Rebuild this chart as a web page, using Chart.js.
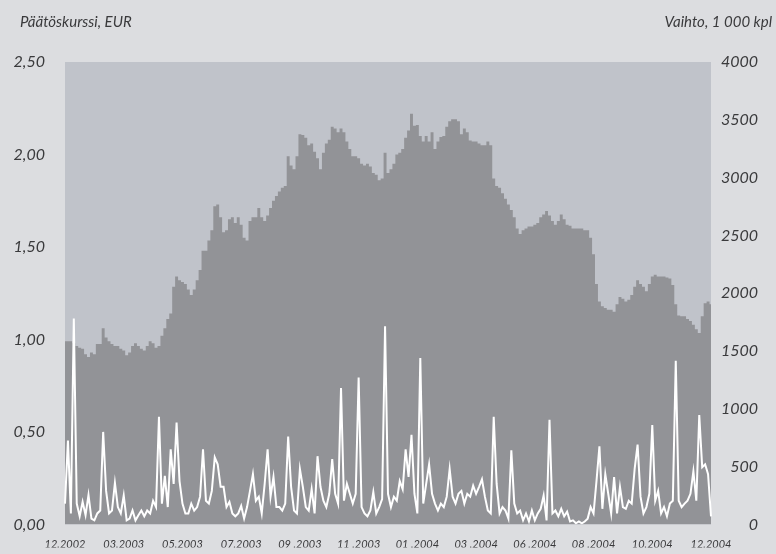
<!DOCTYPE html>
<html>
<head>
<meta charset="utf-8">
<script src="https://cdn.jsdelivr.net/npm/chart.js@4.4.1/dist/chart.umd.min.js"></script>
<style>
  body { margin: 0; background: #dcdde0; }
  canvas { display: block; }
</style>
</head>
<body>
<canvas id="chart" width="776" height="554"></canvas>
<script>
// Axis titles
const leftTitle = "Päätöskurssi, EUR";
const rightTitle = "Vaihto, 1 000 kpl";

// Month labels along the bottom (one every 20 samples)
const monthLabels = ["12.2002", "03.2003", "05.2003", "07.2003", "09 .2003", "11 .2003",
    "01 .2004", "03 .2004", "06 .2004", "08 .2004", "10.2004", "12.2004"];

// Closing price, EUR
const price = [
    0.99, 0.99, 0.99, 0.98, 0.965, 0.955, 0.95, 0.92, 0.905, 0.93,
    0.92, 0.975, 0.975, 1.06, 1.01, 0.99, 0.975, 0.965, 0.965, 0.95,
    0.94, 0.915, 0.93, 0.965, 0.98, 0.965, 0.95, 0.94, 0.965, 0.99,
    0.98, 0.955, 0.965, 1.02, 1.06, 1.11, 1.14, 1.285, 1.34, 1.32,
    1.31, 1.30, 1.27, 1.24, 1.27, 1.32, 1.375, 1.48, 1.48, 1.535,
    1.59, 1.72, 1.73, 1.66, 1.58, 1.59, 1.65, 1.66, 1.63, 1.66,
    1.62, 1.55, 1.535, 1.64, 1.66, 1.66, 1.71, 1.66, 1.64, 1.67,
    1.71, 1.75, 1.775, 1.80, 1.82, 1.83, 1.99, 1.94, 1.92, 1.99,
    2.11, 2.105, 2.09, 2.05, 2.06, 2.015, 1.98, 1.92, 2.01, 2.06,
    2.08, 2.15, 2.14, 2.12, 2.14, 2.12, 2.07, 2.03, 1.99, 1.99,
    1.98, 1.95, 1.94, 1.95, 1.935, 1.90, 1.89, 1.86, 1.87, 2.01,
    1.90, 1.92, 1.95, 2.00, 2.01, 2.03, 2.09, 2.13, 2.22, 2.155,
    2.16, 2.10, 2.07, 2.10, 2.07, 2.12, 2.03, 2.07, 2.095, 2.10,
    2.15, 2.18, 2.19, 2.19, 2.18, 2.11, 2.14, 2.12, 2.075, 2.07,
    2.07, 2.06, 2.05, 2.05, 2.07, 2.05, 1.87, 1.83, 1.82, 1.79,
    1.76, 1.73, 1.70, 1.66, 1.60, 1.57, 1.59, 1.60, 1.61, 1.61,
    1.62, 1.63, 1.66, 1.675, 1.695, 1.67, 1.64, 1.62, 1.64, 1.675,
    1.65, 1.62, 1.615, 1.60, 1.60, 1.60, 1.60, 1.59, 1.59, 1.55,
    1.46, 1.30, 1.205, 1.18, 1.17, 1.16, 1.16, 1.15, 1.19, 1.23,
    1.22, 1.205, 1.215, 1.24, 1.285, 1.32, 1.30, 1.285, 1.26, 1.30,
    1.34, 1.35, 1.34, 1.34, 1.34, 1.335, 1.33, 1.295, 1.19, 1.13,
    1.125, 1.125, 1.11, 1.10, 1.08, 1.055, 1.035, 1.125, 1.195, 1.205,
    1.19
];

// Turnover, 1 000 pcs
const volume = [
    180, 725, 95, 1780, 180, 70, 195, 80, 255, 50,
    35, 95, 120, 800, 290, 95, 120, 360, 150, 95,
    250, 35, 50, 120, 35, 80, 120, 70, 120, 95,
    205, 150, 930, 180, 420, 150, 650, 350, 880, 375,
    180, 95, 95, 180, 120, 150, 240, 650, 205, 180,
    290, 580, 520, 325, 325, 150, 195, 95, 70, 95,
    160, 50, 150, 290, 435, 205, 240, 95, 350, 650,
    240, 410, 150, 150, 120, 180, 760, 325, 120, 95,
    480, 325, 150, 120, 305, 95, 590, 325, 205, 150,
    265, 565, 265, 180, 1180, 205, 350, 265, 180, 265,
    1270, 150, 95, 70, 120, 280, 95, 150, 220, 1715,
    265, 150, 240, 205, 375, 305, 650, 410, 775, 265,
    95, 1440, 180, 350, 520, 265, 180, 120, 180, 150,
    240, 480, 240, 180, 265, 290, 180, 265, 240, 335,
    265, 325, 390, 240, 120, 95, 930, 350, 95, 150,
    120, 50, 640, 180, 95, 120, 35, 95, 25, 120,
    35, 95, 135, 250, 35, 905, 95, 120, 70, 135,
    70, 110, 25, 35, 10, 25, 10, 25, 50, 150,
    95, 375, 675, 135, 435, 265, 95, 410, 95, 325,
    150, 135, 205, 180, 480, 690, 240, 95, 150, 265,
    860, 205, 290, 95, 150, 70, 180, 205, 1415, 205,
    150, 180, 205, 265, 460, 205, 945, 495, 520, 435,
    70
];

const samples = price.map((_, i) => i);

const textColor = "#3a3a3c";
const tickFont = { family: "Lato", size: 16, style: "italic" };

// paints the plot background and the two axis titles
const frame = {
    id: "frame",
    beforeDraw(chart) {
        const { ctx, chartArea: a } = chart;
        ctx.save();
        ctx.fillStyle = "#c0c3ca";
        ctx.fillRect(a.left, a.top, a.right - a.left, a.bottom - a.top);
        ctx.restore();
    },
    afterDraw(chart) {
        const { ctx } = chart;
        ctx.save();
        ctx.fillStyle = textColor;
        ctx.font = "italic 15px Lato";
        ctx.textBaseline = "middle";
        ctx.textAlign = "left";
        ctx.fillText(leftTitle, 20, 22);
        ctx.textAlign = "right";
        ctx.fillText(rightTitle, 772, 22);
        ctx.restore();
    }
};

new Chart(document.getElementById("chart"), {
    type: "line",
    data: {
        labels: samples,
        datasets: [
            {
                label: rightTitle,
                data: volume,
                yAxisID: "y1",
                borderColor: "#ffffff",
                borderWidth: 2,
                pointRadius: 0,
                fill: false,
                order: 0
            },
            {
                label: leftTitle,
                data: price,
                yAxisID: "y",
                borderWidth: 0,
                backgroundColor: "#929397",
                pointRadius: 0,
                stepped: "middle",
                fill: "origin",
                order: 1
            }
        ]
    },
    plugins: [frame],
    options: {
        responsive: false,
        animation: false,
        layout: { padding: { left: 8, right: 18, top: 62, bottom: 0 } },
        plugins: {
            legend: { display: false },
            tooltip: { enabled: false }
        },
        scales: {
            x: {
                type: "category",
                grid: { display: false, drawTicks: false },
                border: { display: false },
                afterFit: (s) => { s.height = 23; },
                ticks: {
                    autoSkip: false,
                    maxRotation: 0,
                    padding: 13,
                    color: textColor,
                    font: { family: "Lato", size: 11, style: "italic" },
                    callback: (v, i) => (i % 20 === 0 ? monthLabels[i / 20] : null)
                }
            },
            y: {
                position: "left",
                min: 0,
                max: 2.5,
                grid: { display: false, drawTicks: false },
                border: { display: false },
                afterFit: (s) => { s.width = 57; },
                ticks: {
                    stepSize: 0.5,
                    padding: 20,
                    color: textColor,
                    font: tickFont,
                    callback: (v) => v.toFixed(2).replace(".", ",")
                }
            },
            y1: {
                position: "right",
                min: 0,
                max: 4000,
                grid: { display: false, drawTicks: false },
                border: { display: false },
                afterFit: (s) => { s.width = 47; },
                ticks: {
                    stepSize: 500,
                    padding: 11,
                    crossAlign: "far",
                    color: textColor,
                    font: tickFont,
                    callback: (v) => String(v)
                }
            }
        }
    }
});
</script>
</body>
</html>
